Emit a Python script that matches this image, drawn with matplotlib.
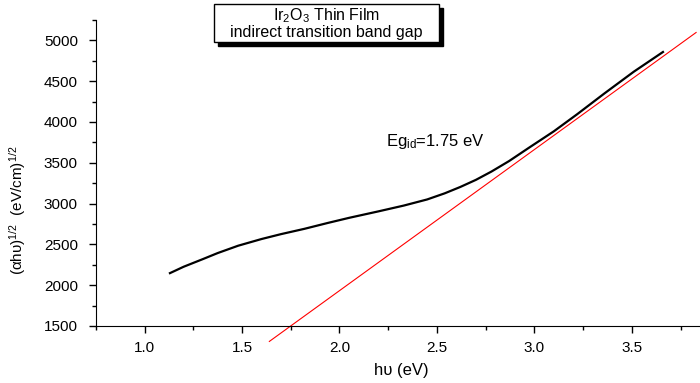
import matplotlib
matplotlib.use("Agg")
import matplotlib.pyplot as plt
from matplotlib.patches import Rectangle
from matplotlib.ticker import MultipleLocator

plt.rcParams['font.family'] = ['Liberation Sans', 'DejaVu Sans']
plt.rcParams['mathtext.fontset'] = 'custom'
plt.rcParams['mathtext.rm'] = 'Liberation Sans'
plt.rcParams['mathtext.it'] = 'Liberation Sans:italic'

# courbe (alpha h nu)^1/2
energie = [1.13, 1.2, 1.3, 1.375, 1.48, 1.6, 1.7, 1.82, 1.94, 2.05, 2.2, 2.33,
           2.45, 2.54, 2.62, 2.7, 2.78, 2.87, 2.97, 3.1, 3.22, 3.36, 3.51, 3.66]
alpha_hv = [2147, 2225, 2320, 2393, 2483, 2565, 2625, 2690, 2762, 2825, 2904, 2975,
            3050, 3125, 3203, 3290, 3392, 3520, 3680, 3885, 4095, 4350, 4615, 4857]

# droite d'extrapolation
fit_x = [1.64, 3.83]
fit_y = [1310, 5096]

titre = "Ir$_2$O$_3$ Thin Film\nindirect transition band gap"
label_gap = "Eg$_{\\mathrm{id}}$=1.75 eV"

fig = plt.figure(figsize=(7, 3.83), dpi=100)
ax = fig.add_axes([0.137, 0.149, 0.863, 0.799])

ax.plot(energie, alpha_hv, color='black', lw=1.6)
ax.plot(fit_x, fit_y, color='red', lw=0.8, clip_on=False)

ax.set_xlim(0.75, 3.85)
ax.set_ylim(1500, 5250)
ax.xaxis.set_minor_locator(MultipleLocator(0.25))
ax.yaxis.set_major_locator(MultipleLocator(500))
ax.yaxis.set_minor_locator(MultipleLocator(250))
ax.set_xticks([1.0, 1.5, 2.0, 2.5, 3.0, 3.5])
ax.tick_params(which='major', direction='out', length=5, width=1, labelsize=11)
ax.tick_params(axis='x', which='major', pad=6)
ax.tick_params(axis='y', which='major', pad=8)
ax.tick_params(which='minor', direction='out', length=3, width=1)
ax.spines['top'].set_visible(False)
ax.spines['right'].set_visible(False)

# titres des axes places comme sur l'original
fig.text(401 / 700, 1 - 370 / 383, "h\u03c5 (eV)", fontsize=12, ha='center', va='center')
fig.text(18 / 700, 1 - 210 / 383, "(\u03b1h\u03c5)$^{1/2}$  (eV/cm)$^{1/2}$", fontsize=11,
         rotation=90, ha='center', va='center')

ax.text(2.24, 3760, label_gap, fontsize=12, va='center', ha='left')

# boite du titre avec ombre
bx, by, bw, bh = 214 / 700, 1 - 42 / 383, 225 / 700, 38 / 383
fig.patches.append(Rectangle((bx + 4 / 700, by - 4 / 383), bw, bh, transform=fig.transFigure,
                             facecolor='black', edgecolor='black', zorder=1))
fig.patches.append(Rectangle((bx, by), bw, bh, transform=fig.transFigure,
                             facecolor='white', edgecolor='black', lw=1, zorder=2))
fig.text(bx + bw / 2, by + bh / 2, titre, ha='center', va='center', fontsize=11.5,
         linespacing=1.05, zorder=3)

fig.savefig("out.png", dpi=100)
